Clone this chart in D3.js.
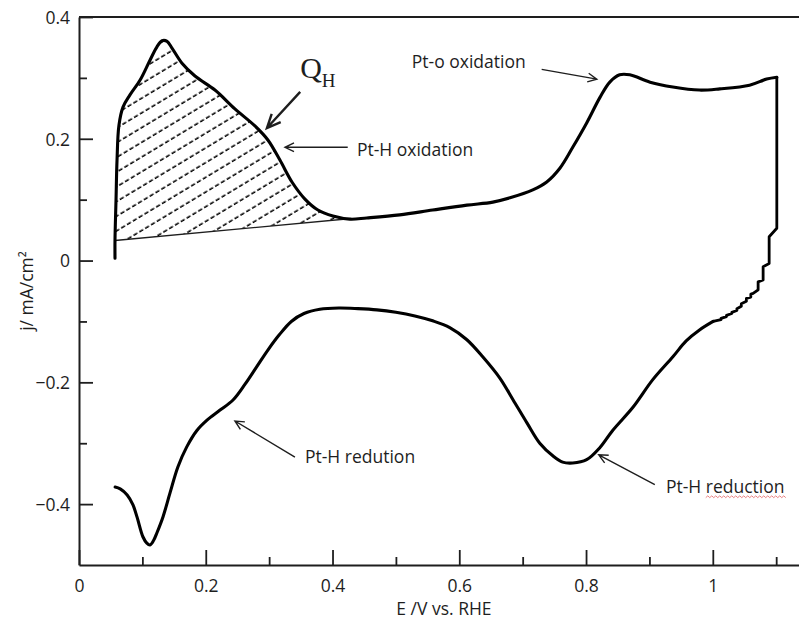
<!DOCTYPE html>
<html>
<head>
<meta charset="utf-8">
<script src="https://cdn.jsdelivr.net/npm/d3@7"></script>
<style>
  html, body { margin: 0; padding: 0; background: #fff; }
  svg { display: block; }
  text { font-family: "Open Sans", sans-serif; fill: #1e1e1e; }
</style>
</head>
<body>
<svg id="chart" width="799" height="622"></svg>
<script>
// Cyclic voltammogram of Pt: potential E (V vs. RHE) and current density j (mA/cm²)

// Anodic sweep (forward scan), low to high potential
const anodicE = [0.0568, 0.0568, 0.0584, 0.060, 0.063, 0.0694, 0.0804, 0.0962, 0.112, 0.123, 0.131, 0.139,
  0.1467, 0.1625, 0.183, 0.2145, 0.246, 0.2776, 0.298, 0.317, 0.336, 0.3565, 0.377, 0.4006, 0.4274, 0.454,
  0.506, 0.558, 0.612, 0.653, 0.680, 0.716, 0.738, 0.759, 0.779, 0.801, 0.822, 0.8375, 0.853, 0.869,
  0.901, 0.937, 0.979, 1.011, 1.058, 1.085, 1.101];
const anodicJ = [0.004, 0.034, 0.099, 0.165, 0.222, 0.252, 0.272, 0.296, 0.329, 0.351, 0.361, 0.360,
  0.349, 0.324, 0.303, 0.280, 0.249, 0.221, 0.198, 0.165, 0.129, 0.101, 0.083, 0.073, 0.068, 0.070,
  0.075, 0.083, 0.091, 0.096, 0.103, 0.116, 0.129, 0.152, 0.186, 0.226, 0.268, 0.293, 0.305, 0.305,
  0.293, 0.285, 0.280, 0.282, 0.288, 0.298, 0.301];

// Reversal at the upper potential limit (stepped trace)
const switchE = [1.101, 1.101, 1.0889, 1.0889, 1.0794, 1.0794, 1.0715, 1.0715, 1.0636, 1.060, 1.060, 1.053,
  1.053, 1.045, 1.045, 1.038, 1.038, 1.030, 1.030, 1.0216, 1.0216, 1.013, 1.013, 1.0005];
const switchJ = [0.301, 0.053, 0.039, -0.005, -0.010, -0.032, -0.035, -0.048, -0.054, -0.055, -0.060, -0.062,
  -0.067, -0.071, -0.075, -0.079, -0.082, -0.085, -0.087, -0.090, -0.092, -0.095, -0.097, -0.100];

// Cathodic sweep (reverse scan), high to low potential
const cathodicE = [1.0005, 0.979, 0.958, 0.937, 0.905, 0.874, 0.842, 0.822, 0.801, 0.779, 0.763, 0.748,
  0.727, 0.707, 0.685, 0.664, 0.637, 0.612, 0.585, 0.558, 0.530, 0.500, 0.470, 0.440, 0.410, 0.380, 0.355,
  0.335, 0.316, 0.298, 0.280, 0.262, 0.243, 0.222, 0.202, 0.186, 0.170, 0.156, 0.1435, 0.1325, 0.123, 0.118,
  0.112, 0.107, 0.101, 0.0915, 0.085, 0.076, 0.065, 0.057];
const cathodicJ = [-0.100, -0.114, -0.132, -0.158, -0.196, -0.241, -0.279, -0.307, -0.327, -0.3325, -0.331, -0.321,
  -0.300, -0.267, -0.229, -0.193, -0.158, -0.130, -0.110, -0.099, -0.091, -0.085, -0.081, -0.079, -0.078, -0.080, -0.087,
  -0.100, -0.122, -0.147, -0.175, -0.203, -0.229, -0.246, -0.262, -0.279, -0.306, -0.339, -0.382, -0.421, -0.447, -0.459,
  -0.467, -0.464, -0.454, -0.421, -0.401, -0.385, -0.375, -0.372];

// Double-layer baseline under the hydrogen desorption region (Q_H)
const baselineE = [0.0568, 0.43];
const baselineJ = [0.033, 0.069];
const qhUpperE = 0.428;   // last anodic point bounding the Q_H area

// Axis ticks
const xMajor = [0, 0.2, 0.4, 0.6, 0.8, 1];
const xMinor = [0.1, 0.3, 0.5, 0.7, 0.9, 1.1];
const yMajor = [-0.4, -0.2, 0, 0.2, 0.4];
const yMinor = [-0.3, -0.1, 0.1, 0.3];
const xTitle = "E /V vs. RHE";
const yTitle = "j/ mA/cm²";

// Annotations (text anchor and arrow in data coordinates)
const noteText = ["Pt-o oxidation", "Pt-H oxidation", "Pt-H redution", "Pt-H reduction"];
const noteE = [0.525, 0.4385, 0.3565, 0.926];
const noteJ = [0.317, 0.172, -0.3325, -0.382];
const arrowFromE = [0.730, 0.424, 0.3407, 0.9085];
const arrowFromJ = [0.314, 0.186, -0.3227, -0.368];
const arrowToE = [0.817, 0.325, 0.246, 0.820];
const arrowToJ = [0.298, 0.186, -0.2635, -0.319];
const qhLabelE = 0.349, qhLabelJ = 0.300;
const qhArrowFrom = [0.349, 0.277], qhArrowTo = [0.2965, 0.2176];

const zip = (a, b) => a.map((v, i) => [v, b[i]]);
const anodic = zip(anodicE, anodicJ);
const switching = zip(switchE, switchJ);
const cathodic = zip(cathodicE, cathodicJ);

const svg = d3.select("#chart");
const x = d3.scaleLinear().domain([0, 1.136]).range([79, 799]);
const y = d3.scaleLinear().domain([-0.5, 0.4]).range([565, 17]);

const ink = "#1e1e1e";
const fontSize = 17.5;

// Hatch pattern for the Q_H area
const defs = svg.append("defs");
const pat = defs.append("pattern")
  .attr("id", "hatch")
  .attr("patternUnits", "userSpaceOnUse")
  .attr("width", 6.8).attr("height", 12.6)
  .attr("patternTransform", "rotate(-31)");
pat.append("line")
  .attr("x1", 0).attr("x2", 6.8).attr("y1", 6).attr("y2", 6)
  .attr("stroke", "#000").attr("stroke-width", 1.55)
  .attr("stroke-dasharray", "4.4,2.4");

const line = d3.line().x(d => x(d[0])).y(d => y(d[1]));
const smooth = d3.line().x(d => x(d[0])).y(d => y(d[1])).curve(d3.curveCatmullRom.alpha(0.5));

// Q_H region: anodic curve down to the baseline
const qhPts = anodic.slice(1).filter(d => d[0] <= qhUpperE);
const qhPath = smooth(qhPts) +
  "L" + x(baselineE[1]) + "," + y(baselineJ[1]) +
  "L" + x(baselineE[0]) + "," + y(baselineJ[0]) + "Z";
svg.append("path").attr("d", qhPath).attr("fill", "url(#hatch)").attr("stroke", "none");

// Baseline
svg.append("path")
  .attr("d", line(zip(baselineE, baselineJ)))
  .attr("stroke", ink).attr("stroke-width", 1.4).attr("fill", "none");

// Axes
function styleAxis(g) {
  g.attr("font-family", null).attr("font-size", null);
  g.selectAll("path.domain").attr("stroke", ink).attr("stroke-width", 2);
  g.selectAll(".tick line").attr("stroke", ink).attr("stroke-width", 1.8);
  g.selectAll(".tick text").attr("fill", ink).style("font-size", fontSize + "px");
}
const fmt = d => (d < 0 ? "\u2212" : "") + String(Math.abs(d));

const gx = svg.append("g").attr("transform", `translate(0,${y(-0.5)})`)
  .call(d3.axisBottom(x).tickValues(xMajor).tickSize(-15).tickSizeOuter(0).tickPadding(14.5).tickFormat(fmt));
styleAxis(gx);
const gxm = svg.append("g").attr("transform", `translate(0,${y(-0.5)})`)
  .call(d3.axisBottom(x).tickValues(xMinor).tickSize(-8).tickFormat(""));
gxm.select("path.domain").remove();
styleAxis(gxm);

const gy = svg.append("g").attr("transform", `translate(${x(0)},0)`)
  .call(d3.axisLeft(y).tickValues(yMajor).tickSize(-14).tickSizeOuter(0).tickPadding(9).tickFormat(fmt));
styleAxis(gy);
gy.selectAll(".tick text").attr("dy", "0.36em");
const gym = svg.append("g").attr("transform", `translate(${x(0)},0)`)
  .call(d3.axisLeft(y).tickValues(yMinor).tickSize(-8).tickFormat(""));
gym.select("path.domain").remove();
styleAxis(gym);

// Top frame line
svg.append("line")
  .attr("x1", x(0)).attr("x2", x.range()[1])
  .attr("y1", y(0.4)).attr("y2", y(0.4))
  .attr("stroke", ink).attr("stroke-width", 2);

// Axis titles
svg.append("text")
  .attr("x", (x(0) + x(1)) / 2 + 48).attr("y", 615)
  .attr("text-anchor", "middle").style("font-size", fontSize + "px")
  .text(xTitle);
svg.append("text")
  .attr("transform", `translate(33,${y(-0.05)}) rotate(-90)`)
  .attr("text-anchor", "middle").style("font-size", fontSize + "px")
  .text(yTitle);

// Voltammogram trace
const traceStyle = p => p.attr("fill", "none").attr("stroke", "#000").attr("stroke-width", 3.1)
  .attr("stroke-linejoin", "round").attr("stroke-linecap", "round");
svg.append("path").attr("d", smooth(anodic)).call(traceStyle);
svg.append("path").attr("d", line(switching)).call(traceStyle).attr("stroke-width", 2.8);
svg.append("path").attr("d", smooth(cathodic)).call(traceStyle);

// Arrow helper: shaft plus open V head
function arrow(from, to, width, headLen, headAngle) {
  const x1 = x(from[0]), y1 = y(from[1]), x2 = x(to[0]), y2 = y(to[1]);
  const a = Math.atan2(y2 - y1, x2 - x1);
  const h1 = [x2 - headLen * Math.cos(a - headAngle), y2 - headLen * Math.sin(a - headAngle)];
  const h2 = [x2 - headLen * Math.cos(a + headAngle), y2 - headLen * Math.sin(a + headAngle)];
  svg.append("path")
    .attr("d", `M${x1},${y1}L${x2},${y2}M${h1[0]},${h1[1]}L${x2},${y2}L${h2[0]},${h2[1]}`)
    .attr("fill", "none").attr("stroke", ink).attr("stroke-width", width)
    .attr("stroke-linejoin", "miter").attr("stroke-linecap", "butt");
}

noteText.forEach((t, i) => {
  arrow([arrowFromE[i], arrowFromJ[i]], [arrowToE[i], arrowToJ[i]], 1.4, 10, 0.45);
});
arrow(qhArrowFrom, qhArrowTo, 2.4, 15, 0.42);

const notes = svg.selectAll("text.note").data(noteText).join("text")
  .attr("class", "note")
  .attr("x", (d, i) => x(noteE[i])).attr("y", (d, i) => y(noteJ[i]))
  .style("font-size", fontSize + "px")
  .text(d => d);

// Spell-check style squiggle under the word "reduction"
const lastNote = notes.filter((d, i) => i === 3).node();
const word = "reduction";
const start = noteText[3].indexOf(word);
const offset = lastNote.getSubStringLength(0, start);
const wlen = lastNote.getSubStringLength(start, word.length);
const sx = +lastNote.getAttribute("x") + offset, sy = +lastNote.getAttribute("y") + 3.6;
const wave = [];
for (let k = 0; k * 2 <= wlen + 3; k++) wave.push([sx + k * 2, sy + (k % 2 ? -1 : 1) * 0.9]);
svg.append("path").attr("d", d3.line()(wave))
  .attr("fill", "none").attr("stroke", "#e57373").attr("stroke-width", 0.9);

// Q_H label (serif, with subscript)
const qh = svg.append("text")
  .attr("x", x(qhLabelE)).attr("y", y(qhLabelJ))
  .style("font-family", "'Liberation Serif', 'Times New Roman', serif")
  .style("font-size", "30px");
qh.append("tspan").text("Q");
qh.append("tspan").attr("dy", 9).style("font-size", "19px").text("H");
</script>
</body>
</html>
